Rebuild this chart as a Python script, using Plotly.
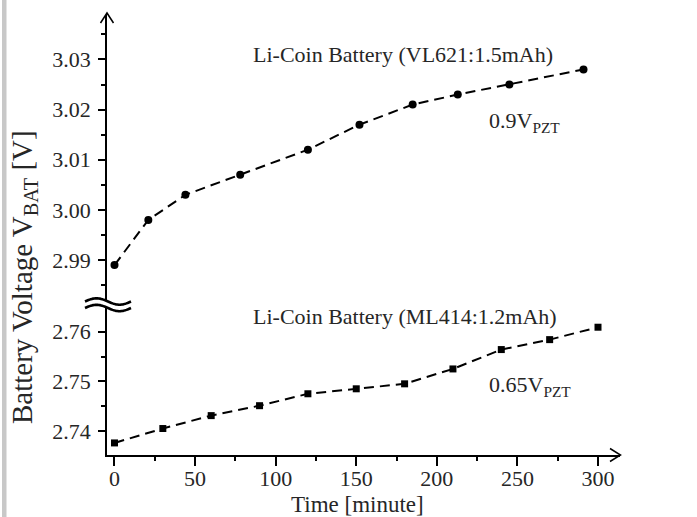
import math
import plotly.graph_objects as go

# ---- data ----
t_vl621 = [0, 21, 44, 78, 120, 152, 185, 213, 245, 291]
v_vl621 = [2.989, 2.998, 3.003, 3.007, 3.012, 3.017, 3.021, 3.023, 3.025, 3.028]
t_ml414 = [0, 30, 60, 90, 120, 150, 180, 210, 240, 270, 300]
v_ml414 = [2.7376, 2.7405, 2.7431, 2.7451, 2.7475, 2.7485, 2.7495, 2.7525, 2.7564, 2.7584, 2.7609]
x_ticks = [0, 50, 100, 150, 200, 250, 300]
y_ticks_upper = [2.99, 3.00, 3.01, 3.02, 3.03]
y_ticks_lower = [2.74, 2.75, 2.76]

W, H = 697, 517
L, R, T, B = 107, 620, 15, 455  # plot area in pixels
PW, PH = R - L, B - T


def px(x, y):
    return (x - L) / PW, (B - y) / PH


FONT = "Liberation Serif"
TXT = "#262626"
XR = [-4.65, 313.65]

fig = go.Figure()
fig.add_trace(go.Scatter(
    x=t_vl621, y=v_vl621, mode="lines+markers", yaxis="y2",
    line=dict(color="black", width=2, dash="10px,6px"),
    marker=dict(symbol="circle", size=8, color="black"),
    showlegend=False))
fig.add_trace(go.Scatter(
    x=t_ml414, y=v_ml414, mode="lines+markers", yaxis="y",
    line=dict(color="black", width=2, dash="10px,6px"),
    marker=dict(symbol="square", size=7, color="black"),
    showlegend=False))
# empty trace so the tick-mark overlay axis is drawn
fig.add_trace(go.Scatter(x=[], y=[], xaxis="x2", yaxis="y", showlegend=False,
                         hoverinfo="skip"))

tickfont = dict(family=FONT, size=22, color=TXT)
yaxis_common = dict(showline=True, linecolor="black", linewidth=1.5,
                    ticks="outside", tickcolor="black", tickwidth=1.5,
                    showgrid=False, zeroline=False, tickfont=tickfont,
                    ticklabelstandoff=3)

upper_bot = 301
lower_top = 308
fig.update_layout(
    width=W, height=H,
    margin=dict(l=L, r=W - R, t=T, b=H - B),
    paper_bgcolor="white", plot_bgcolor="white",
    # labels axis (no ticks so labels sit close to the line)
    xaxis=dict(range=XR, tickvals=x_ticks, ticks="", showline=True,
               linecolor="black", linewidth=1.5, showgrid=False, zeroline=False,
               tickfont=tickfont, ticklabelstandoff=3),
    # tick-mark axis overlay
    xaxis2=dict(range=XR, overlaying="x", anchor="y", side="bottom",
                tickvals=x_ticks, ticks="outside", ticklen=10, tickwidth=1.5,
                tickcolor="black", showticklabels=False, showline=False,
                showgrid=False, zeroline=False,
                minor=dict(dtick=25, tick0=0, ticks="outside", ticklen=5,
                           tickcolor="black", tickwidth=1.5)),
    yaxis=dict(domain=[0, (B - lower_top) / PH], range=[2.73517, 2.76477],
               tickvals=y_ticks_lower, tickformat=".2f", ticklen=7,
               minor=dict(dtick=0.005, tick0=2.74, ticks="outside", ticklen=4,
                          tickcolor="black", tickwidth=1.5),
               **yaxis_common),
    yaxis2=dict(domain=[(B - upper_bot) / PH, 1], range=[2.98183, 3.03886],
                tickvals=y_ticks_upper, tickformat=".2f", ticklen=7,
                minor=dict(dtick=0.005, tick0=2.99, ticks="outside", ticklen=4,
                           tickcolor="black", tickwidth=1.5),
                anchor="x", **yaxis_common),
)

ann_font = dict(family=FONT, size=22, color=TXT)
fig.add_annotation(x=85, y=3.0309, xref="x", yref="y2", xanchor="left", yanchor="middle",
                   text="Li-Coin Battery (VL621:1.5mAh)", showarrow=False, font=ann_font)
fig.add_annotation(x=231, y=3.0175, xref="x", yref="y2", xanchor="left", yanchor="middle",
                   text="0.9V<sub>PZT</sub>", showarrow=False, font=ann_font)
fig.add_annotation(x=85, y=2.7630, xref="x", yref="y", xanchor="left", yanchor="middle",
                   text="Li-Coin Battery (ML414:1.2mAh)", showarrow=False, font=ann_font)
fig.add_annotation(x=231, y=2.7490, xref="x", yref="y", xanchor="left", yanchor="middle",
                   text="0.65V<sub>PZT</sub>", showarrow=False, font=ann_font)

# axis titles
tx, ty = px(357, 505)
fig.add_annotation(x=tx, y=ty, xref="paper", yref="paper", xanchor="center", yanchor="middle",
                   text="Time [minute]", showarrow=False,
                   font=dict(family=FONT, size=23, color=TXT))
yx, yy = px(24, 277)
fig.add_annotation(x=yx, y=yy, xref="paper", yref="paper", xanchor="center", yanchor="middle",
                   textangle=-90, text="Battery Voltage V<sub>BAT</sub> [V]",
                   showarrow=False, font=dict(family=FONT, size=29, color=TXT))


# arrows (open chevrons)
def path(points):
    return "M " + " L ".join(f"{px(x, y)[0]:.5f},{px(x, y)[1]:.5f}" for x, y in points)


fig.add_shape(type="path", xref="paper", yref="paper",
              path=path([(100.5, 23), (107, 13), (113.5, 23)]),
              line=dict(color="black", width=1.5))
fig.add_shape(type="line", xref="paper", yref="paper",
              x0=px(107, 15)[0], y0=px(107, 15)[1], x1=px(107, 13.5)[0], y1=px(107, 13.5)[1],
              line=dict(color="black", width=1.5))
fig.add_shape(type="path", xref="paper", yref="paper",
              path=path([(610, 448.5), (620.5, 455), (610, 461.5)]),
              line=dict(color="black", width=1.5))

# axis break symbol (two waves)
for yc in (301.5, 308):
    pts = []
    for i in range(41):
        x = 85 + i * (46.0 / 40)
        y = yc - 3.2 * math.sin(2 * math.pi * (x - 85) / 46.0)
        pts.append((x, y))
    fig.add_shape(type="path", xref="paper", yref="paper", path=path(pts),
                  line=dict(color="black", width=2.6))

# grey left border
bx0, _ = px(2, 0)
bx1, _ = px(6.5, 0)
fig.add_shape(type="rect", xref="paper", yref="paper", x0=bx0, x1=bx1,
              y0=px(0, H)[1], y1=px(0, 0)[1], line=dict(width=0),
              fillcolor="#c8c8c8", layer="below")

fig.write_html("out.html")
